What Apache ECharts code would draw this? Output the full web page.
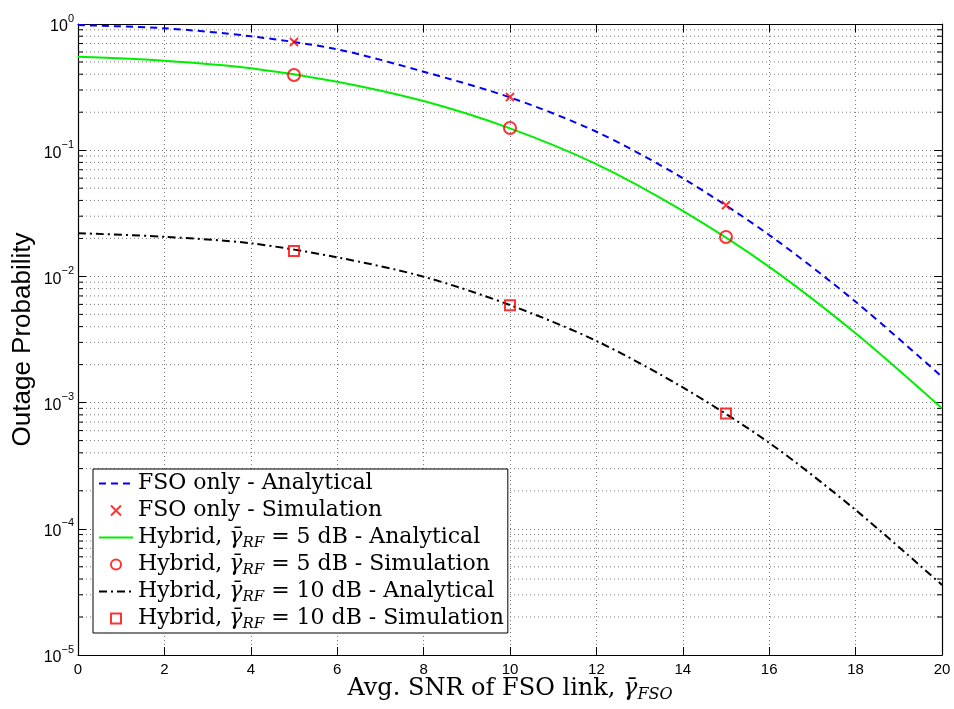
<!DOCTYPE html>
<html>
<head>
<meta charset="utf-8">
<script src="https://cdn.jsdelivr.net/npm/echarts@6/dist/echarts.min.js"></script>
<style>html,body{margin:0;padding:0;background:#fff;}#chart{width:954px;height:709px;}</style>
</head>
<body>
<div id="chart"></div>
<script>
// ---- data ----
const snrAnalytical = [0, 2, 4, 6, 8, 10, 12, 14, 16, 18, 20];
const fsoAnalytical = [0.98, 0.925, 0.80, 0.63, 0.419, 0.262, 0.140, 0.060, 0.0213, 0.0063, 0.0016];
const hyb5Analytical = [0.55, 0.512, 0.446, 0.349, 0.245, 0.149, 0.0776, 0.0330, 0.0119, 0.00354, 0.0009];
const hyb10Analytical = [0.022, 0.0206, 0.0183, 0.01416, 0.00995, 0.00593, 0.00308, 0.00132, 0.00048, 0.000141, 0.0000359];
const snrSim = [5, 10, 15];
const fsoSim = [0.72, 0.264, 0.0366];
const hyb5Sim = [0.394, 0.150, 0.0205];
const hyb10Sim = [0.0159, 0.0059, 0.00082];

const seriesNames = [
  'FSO only - Analytical',
  'FSO only - Simulation',
  'Hybrid, γRF = 5 dB - Analytical',
  'Hybrid, γRF = 5 dB - Simulation',
  'Hybrid, γRF = 10 dB - Analytical',
  'Hybrid, γRF = 10 dB - Simulation'
];

const pair = (xs, ys) => xs.map((x, i) => [x, ys[i]]);

// minor log gridline positions (2..9 x 10^k)
const minorVals = [];
for (let k = -5; k < 0; k++) for (let m = 2; m <= 9; m++) minorVals.push([0, m * Math.pow(10, k)]);

const chart = echarts.init(document.getElementById('chart'));
const serif = 'DejaVu Serif';
const sans = 'Liberation Sans';
const gridDash = [1, 3];
const gridColor = '#7a7a7a';
const hideSym = { color: 'rgba(0,0,0,0)', borderColor: 'rgba(0,0,0,0)', borderWidth: 0, opacity: 0 };

const option = {
  animation: false,
  backgroundColor: '#fff',
  grid: { left: 78, right: 12, top: 24, bottom: 54, containLabel: false, outerBoundsMode: 'none' },
  xAxis: [{
    type: 'value', min: 0, max: 20, interval: 2,
    axisLine: { show: true, onZero: false, lineStyle: { color: '#000', width: 1.2 } },
    axisTick: { show: true, inside: true, length: 8, lineStyle: { color: '#000' } },
    axisLabel: { fontFamily: sans, fontSize: 15, color: '#000', margin: 7 },
    splitLine: { show: true, lineStyle: { color: gridColor, type: gridDash, width: 1 } },
    name: '{t|Avg. SNR of FSO link, }{g|γ̄}{s|FSO}',
    nameLocation: 'middle', nameGap: 20, nameMoveOverlap: false,
    nameTextStyle: {
      fontFamily: serif, fontSize: 24, color: '#000',
      rich: {
        t: { fontFamily: serif, fontSize: 24, color: '#000', lineHeight: 28 },
        g: { fontFamily: serif, fontSize: 24, fontStyle: 'italic', color: '#000', lineHeight: 28 },
        s: { fontFamily: serif, fontSize: 16, fontStyle: 'italic', color: '#000', lineHeight: 15, verticalAlign: 'bottom' }
      }
    }
  }, {
    type: 'value', min: 0, max: 20, interval: 2, position: 'top',
    axisLine: { show: true, onZero: false, lineStyle: { color: '#000', width: 1.2 } },
    axisTick: { show: true, inside: true, length: 8, lineStyle: { color: '#000' } },
    axisLabel: { show: false }, splitLine: { show: false }
  }],
  yAxis: [{
    type: 'log', logBase: 10, min: 1e-5, max: 1,
    axisLine: { show: true, onZero: false, lineStyle: { color: '#000', width: 1.2 } },
    axisTick: { show: true, inside: true, length: 8, lineStyle: { color: '#000' } },
    axisLabel: {
      margin: 4, color: '#000',
      formatter: v => '{b|10}{s|' + String(Math.round(Math.log10(v))).replace('-', '−') + '}',
      rich: {
        b: { fontFamily: sans, fontSize: 16, color: '#000', lineHeight: 22, verticalAlign: 'bottom' },
        s: { fontFamily: sans, fontSize: 11, color: '#000', lineHeight: 11, verticalAlign: 'top' }
      }
    },
    splitLine: { show: true, lineStyle: { color: gridColor, type: gridDash, width: 1 } },
    name: 'Outage Probability', nameLocation: 'middle', nameGap: 42, nameMoveOverlap: false,
    nameTextStyle: { fontFamily: sans, fontSize: 26, color: '#000' }
  }, {
    type: 'log', logBase: 10, min: 1e-5, max: 1, position: 'right',
    axisLine: { show: true, onZero: false, lineStyle: { color: '#000', width: 1.2 } },
    axisTick: { show: true, inside: true, length: 8, lineStyle: { color: '#000' } },
    axisLabel: { show: false }, splitLine: { show: false }
  }],
  legend: {
    orient: 'vertical', left: 93, top: 469,
    data: [
      { name: seriesNames[0], itemStyle: hideSym },
      { name: seriesNames[1] },
      { name: seriesNames[2], itemStyle: hideSym },
      { name: seriesNames[3] },
      { name: seriesNames[4], itemStyle: hideSym },
      { name: seriesNames[5] }
    ],
    backgroundColor: '#fff', borderColor: '#000', borderWidth: 1,
    padding: [1, 4, 1, 5], itemGap: 0,
    itemWidth: 34, itemHeight: 10,
    textStyle: {
      fontFamily: serif, fontSize: 22, color: '#000', lineHeight: 27,
      rich: {
        t: { fontFamily: serif, fontSize: 22, color: '#000', lineHeight: 27 },
        g: { fontFamily: serif, fontSize: 22, fontStyle: 'italic', color: '#000', lineHeight: 27 },
        s: { fontFamily: serif, fontSize: 15, fontStyle: 'italic', color: '#000', lineHeight: 14, verticalAlign: 'bottom' }
      }
    },
    formatter: name => {
      if (name.indexOf('γRF') < 0) return '{t|' + name + '}';
      const parts = name.split('γRF');
      return '{t|' + parts[0] + '}{g|γ̄}{s|RF}{t|' + parts[1] + '}';
    }
  },
  series: [
    {
      type: 'custom', name: 'minorGrid', silent: true, z: 1,
      data: minorVals,
      renderItem: (params, api) => {
        const v = api.value(1);
        const p0 = api.coord([0, v]);
        const p1 = api.coord([20, v]);
        return {
          type: 'group', children: [
            { type: 'line', shape: { x1: p0[0], y1: p0[1], x2: p1[0], y2: p1[1] }, style: { stroke: gridColor, lineDash: gridDash, lineWidth: 1 } },
            { type: 'line', shape: { x1: p0[0], y1: p0[1], x2: p0[0] + 5, y2: p0[1] }, style: { stroke: '#000', lineWidth: 1 } },
            { type: 'line', shape: { x1: p1[0] - 5, y1: p1[1], x2: p1[0], y2: p1[1] }, style: { stroke: '#000', lineWidth: 1 } }
          ]
        };
      }
    },
    {
      name: seriesNames[0], type: 'line', smooth: 0.3, symbol: 'none', z: 3,
      data: pair(snrAnalytical, fsoAnalytical),
      lineStyle: { color: '#0000ff', width: 2, type: [7, 5] },
      itemStyle: { color: '#0000ff' }
    },
    {
      name: seriesNames[1], type: 'scatter', z: 5,
      symbol: 'path://M0,0L10,10M10,0L0,10', symbolSize: 8,
      data: pair(snrSim, fsoSim),
      itemStyle: { color: 'rgba(0,0,0,0)', borderColor: '#ff0000', borderWidth: 2 }
    },
    {
      name: seriesNames[2], type: 'line', smooth: 0.3, symbol: 'none', z: 3,
      data: pair(snrAnalytical, hyb5Analytical),
      lineStyle: { color: '#00ee00', width: 2, type: 'solid' },
      itemStyle: { color: '#00ee00' }
    },
    {
      name: seriesNames[3], type: 'scatter', z: 5,
      symbol: 'circle', symbolSize: 12,
      data: pair(snrSim, hyb5Sim),
      itemStyle: { color: 'rgba(0,0,0,0)', borderColor: '#ff0000', borderWidth: 2 }
    },
    {
      name: seriesNames[4], type: 'line', smooth: 0.3, symbol: 'none', z: 3,
      data: pair(snrAnalytical, hyb10Analytical),
      lineStyle: { color: '#000', width: 2, type: [8, 4, 2, 4] },
      itemStyle: { color: '#000' }
    },
    {
      name: seriesNames[5], type: 'scatter', z: 5,
      symbol: 'path://M0,0L10,0L10,10L0,10Z', symbolSize: 10,
      data: pair(snrSim, hyb10Sim),
      itemStyle: { color: 'rgba(0,0,0,0)', borderColor: '#ff0000', borderWidth: 2 }
    }
  ]
};
chart.setOption(option);
</script>
</body>
</html>
